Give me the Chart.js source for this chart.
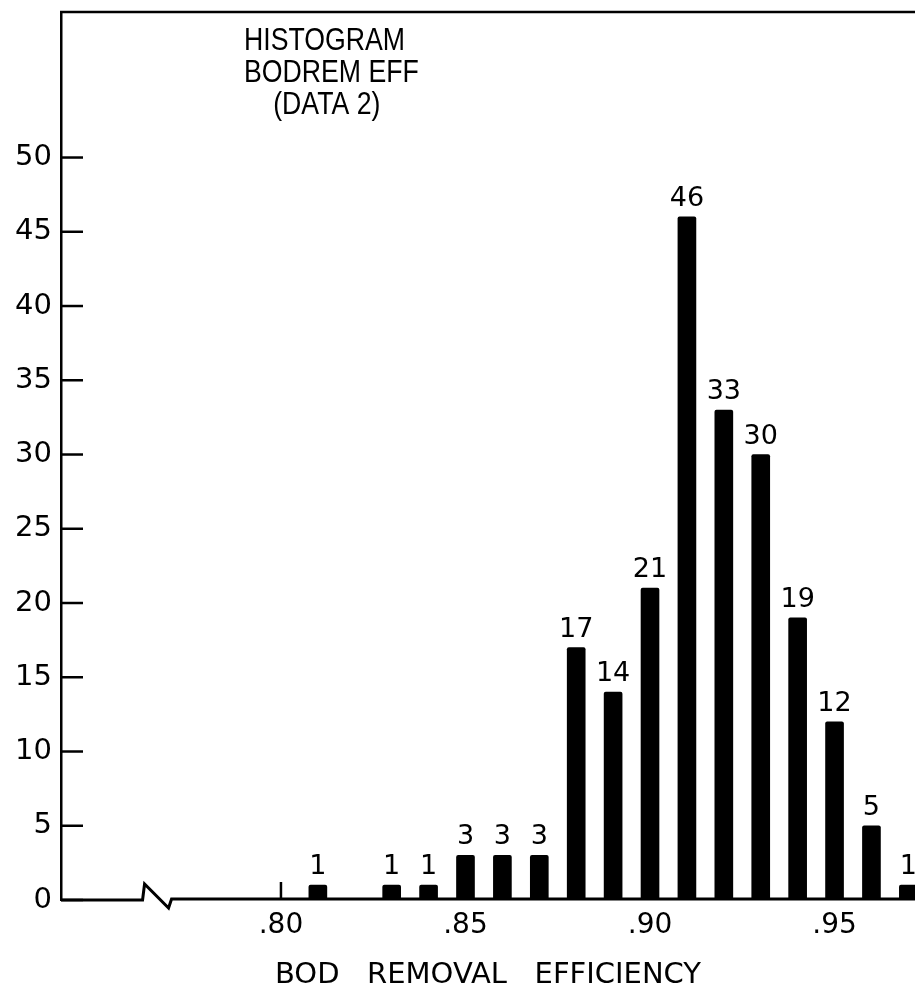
<!DOCTYPE html>
<html>
<head>
<meta charset="utf-8">
<script src="https://cdn.jsdelivr.net/npm/chart.js@4"></script>
<style>
  html, body { margin: 0; padding: 0; background: #fff; }
  #wrap { width: 915px; height: 990px; }
</style>
</head>
<body>
<div id="wrap"><canvas id="myChart" width="915" height="990"></canvas></div>
<script>
// histogram data (bin centre -> count)
const binValues = [0.81, 0.83, 0.84, 0.85, 0.86, 0.87, 0.88, 0.89, 0.90, 0.91, 0.92, 0.93, 0.94, 0.95, 0.96, 0.97];
const counts = [1, 1, 1, 3, 3, 3, 17, 14, 21, 46, 33, 30, 19, 12, 5, 1];
const xTickValues = [0.80, 0.85, 0.90, 0.95];
const titleLines = ["HISTOGRAM", "BODREM EFF", "(DATA 2)"];
const xTitle = "BOD   REMOVAL   EFFICIENCY";

const numFont = "DejaVu Sans";
const ink = "#000";

const points = binValues.map((v, i) => ({ x: v, y: counts[i] }));

// draws frame, inner ticks, axis break, bar labels and the title block
const decorations = {
    id: "decorations",
    afterDraw(chart) {
        const { ctx, chartArea } = chart;
        const xs = chart.scales.x;
        const ys = chart.scales.y;
        const base = ys.getPixelForValue(0);
        ctx.save();
        ctx.strokeStyle = ink;
        ctx.lineWidth = 2.5;

        // top frame line
        ctx.beginPath();
        ctx.moveTo(chartArea.left - 1, chartArea.top);
        ctx.lineTo(chartArea.right, chartArea.top);
        ctx.stroke();

        // y ticks pointing inward
        ys.ticks.forEach(t => {
            const y = ys.getPixelForValue(t.value);
            ctx.beginPath();
            ctx.moveTo(chartArea.left, y);
            ctx.lineTo(chartArea.left + 22, y);
            ctx.stroke();
        });

        // x baseline with axis break
        ctx.lineWidth = 3;
        const bx = xs.getPixelForValue(0.7625);
        ctx.beginPath();
        ctx.moveTo(chartArea.left, base);
        ctx.lineTo(bx, base);
        ctx.lineTo(bx + 2, base - 16);
        ctx.lineTo(bx + 26, base + 8);
        ctx.lineTo(bx + 29, base - 1);
        ctx.lineTo(chartArea.right, base - 1);
        ctx.stroke();

        // x tick marks pointing up
        ctx.lineWidth = 2.5;
        xTickValues.forEach(v => {
            const x = xs.getPixelForValue(v);
            ctx.beginPath();
            ctx.moveTo(x, base);
            ctx.lineTo(x, base - 18);
            ctx.stroke();
        });

        // count labels over bars
        ctx.fillStyle = ink;
        ctx.font = "27px '" + numFont + "'";
        ctx.textAlign = "center";
        ctx.textBaseline = "middle";
        chart.getDatasetMeta(0).data.forEach((bar, i) => {
            ctx.fillText(String(counts[i]), bar.x, bar.y - 18);
        });

        // title block (narrow sans)
        ctx.font = "31px 'Liberation Sans'";
        ctx.textAlign = "left";
        ctx.save();
        ctx.translate(244, 0);
        ctx.scale(0.86, 1);
        ctx.fillText(titleLines[0], 0, 41);
        ctx.fillText(titleLines[1], 0, 73);
        ctx.fillText(titleLines[2], 34, 105);
        ctx.restore();
        ctx.restore();
    }
};

const myChart = new Chart("myChart", {
    type: "bar",
    data: {
        datasets: [{
            data: points,
            backgroundColor: ink,
            borderWidth: 0,
            borderRadius: 2,
            borderSkipped: "bottom",
            barThickness: 18
        }]
    },
    options: {
        responsive: false,
        animation: false,
        layout: { padding: { top: 12, right: 0, bottom: 0, left: 0 } },
        plugins: {
            legend: { display: false },
            tooltip: { enabled: false }
        },
        scales: {
            x: {
                type: "linear",
                min: 0.7404,
                max: 0.9718,
                offset: false,
                grid: { display: false, drawTicks: false },
                border: { display: false },
                afterBuildTicks: (scale) => {
                    scale.ticks = xTickValues.map(v => ({ value: v }));
                },
                afterFit: (scale) => {
                    scale.height = 90;
                    scale.paddingLeft = 0;
                    scale.paddingRight = 0;
                },
                ticks: {
                    padding: 9,
                    color: ink,
                    font: { family: numFont, size: 28 },
                    maxRotation: 0,
                    callback: (v) => Number(v).toFixed(2).slice(1)
                },
                title: {
                    display: true,
                    text: xTitle,
                    color: ink,
                    font: { family: numFont, size: 29, lineHeight: 1 },
                    padding: { top: 0, bottom: 0 }
                }
            },
            y: {
                min: 0,
                max: 59.8,
                grid: { display: false, drawTicks: false },
                border: { display: true, color: ink, width: 2.5 },
                afterBuildTicks: (scale) => {
                    scale.ticks = scale.ticks.filter(t => t.value <= 50);
                },
                afterFit: (scale) => {
                    scale.width = 61;
                    scale.paddingTop = 0;
                    scale.paddingBottom = 0;
                },
                ticks: {
                    stepSize: 5,
                    padding: 9,
                    color: ink,
                    font: { family: numFont, size: 29 }
                }
            }
        }
    },
    plugins: [decorations]
});
</script>
</body>
</html>
